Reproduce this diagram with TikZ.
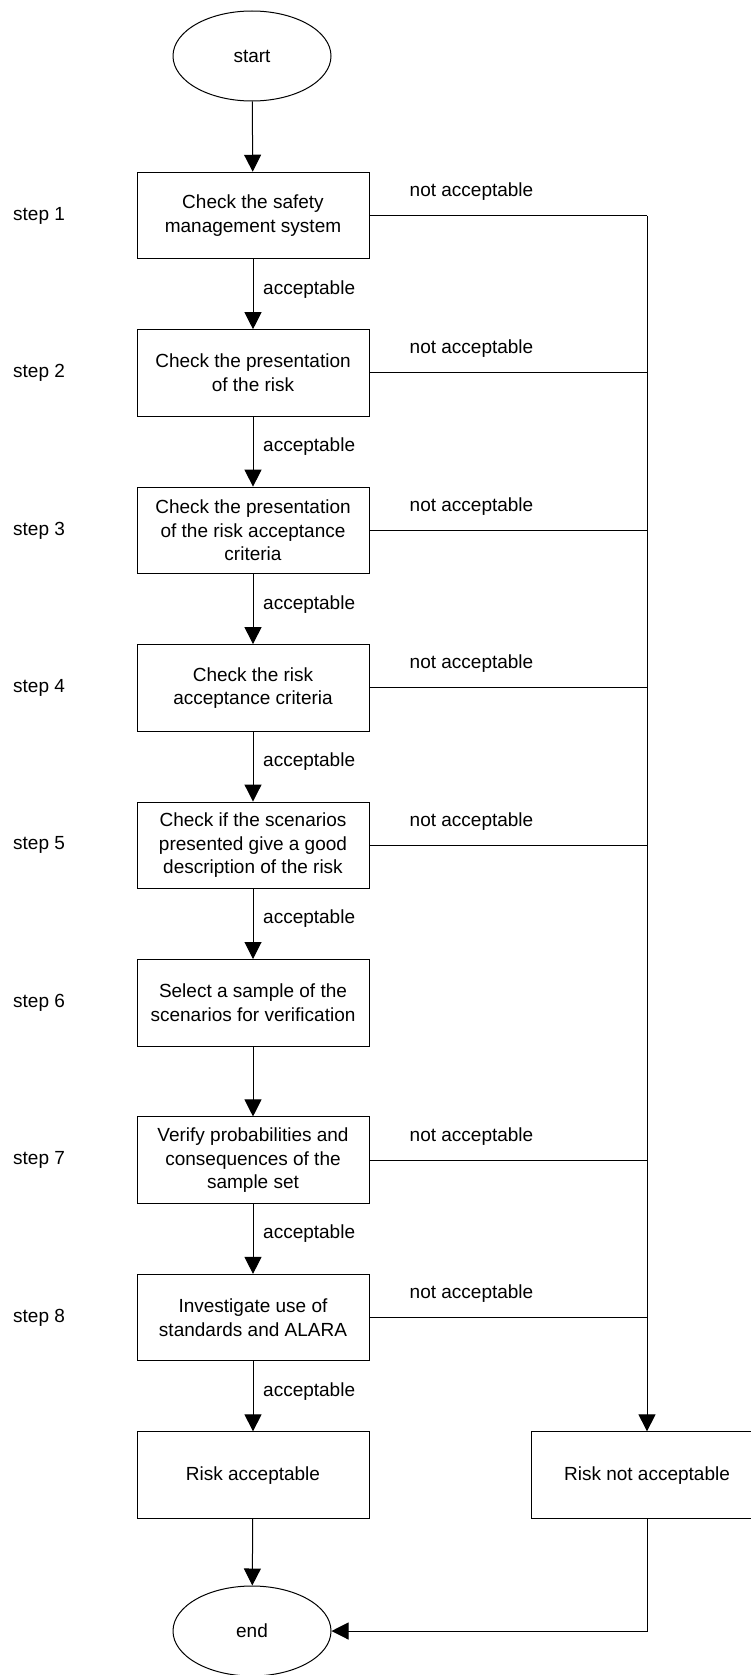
\documentclass[tikz,border=0pt]{standalone}
\usepackage{fontspec}
\usetikzlibrary{shapes.geometric,arrows.meta}
\newfontfamily\lab{Liberation Sans}
\begin{document}
\begin{tikzpicture}[x=1pt,y=-1pt,
  txt/.style={font=\lab\fontsize{19}{23.5}\selectfont},
  stepbox/.style={draw,line width=1pt,minimum width=232pt,minimum height=86.5pt,align=center,inner sep=0pt,txt},
  term/.style={draw,ellipse,line width=1pt,minimum width=158pt,minimum height=90pt,inner sep=0pt,txt},
  lbl/.style={anchor=west,inner sep=0pt,txt},
  conn/.style={line width=1pt},
  arr/.style={line width=1pt,-{Triangle[length=17pt,width=17pt]}}]
\useasboundingbox (0,0) rectangle (750,1675);
\node[term] (start) at (252,56) {start};
\foreach \i/\t in {1/{Check the safety\\management system},
                   2/{Check the presentation\\of the risk},
                   3/{Check the presentation\\of the risk acceptance\\criteria},
                   4/{Check the risk\\acceptance criteria},
                   5/{Check if the scenarios\\presented give a good\\description of the risk},
                   6/{Select a sample of the\\scenarios for verification},
                   7/{Verify probabilities and\\consequences of the\\sample set},
                   8/{Investigate use of\\standards and ALARA}}{
  \pgfmathsetmacro{\cy}{215.5+157.45*(\i-1)}
  \node[stepbox] (b\i) at (253,\cy) {\t};
  \node[lbl] (s\i) at (13,\cy) {step \i};
}
\node[stepbox] (ra) at (253,1475.1) {Risk acceptable};
\node[stepbox] (rna) at (647,1475.1) {Risk not acceptable};
\node[term] (end) at (252,1631) {end};
% main flow
\draw[arr] (start) -- (b1);
\foreach \i/\j in {1/2,2/3,3/4,4/5,5/6,7/8}{
  \draw[arr] (b\i) -- (b\j);
  \node[lbl] (a\i) at ([xshift=10pt,yshift=-30pt]b\i.south) {acceptable};
}
\draw[arr] (b6) -- (b7);
\draw[arr] (b8) -- (ra);
\node[lbl] (a8) at ([xshift=10pt,yshift=-30pt]b8.south) {acceptable};
\draw[arr] (ra) -- (end);
% not acceptable branch
\coordinate (top) at (b1.east -| rna.north);
\foreach \i in {1,2,3,4,5,7,8}{
  \draw[conn] (b\i.east) -- (b\i.east -| rna.north);
  \node[lbl] (n\i) at ([xshift=40pt,yshift=24pt]b\i.east) {not acceptable};
}
\draw[arr] (top) -- (rna.north);
\draw[arr] (rna.south) |- (end.east);
\end{tikzpicture}
\end{document}
